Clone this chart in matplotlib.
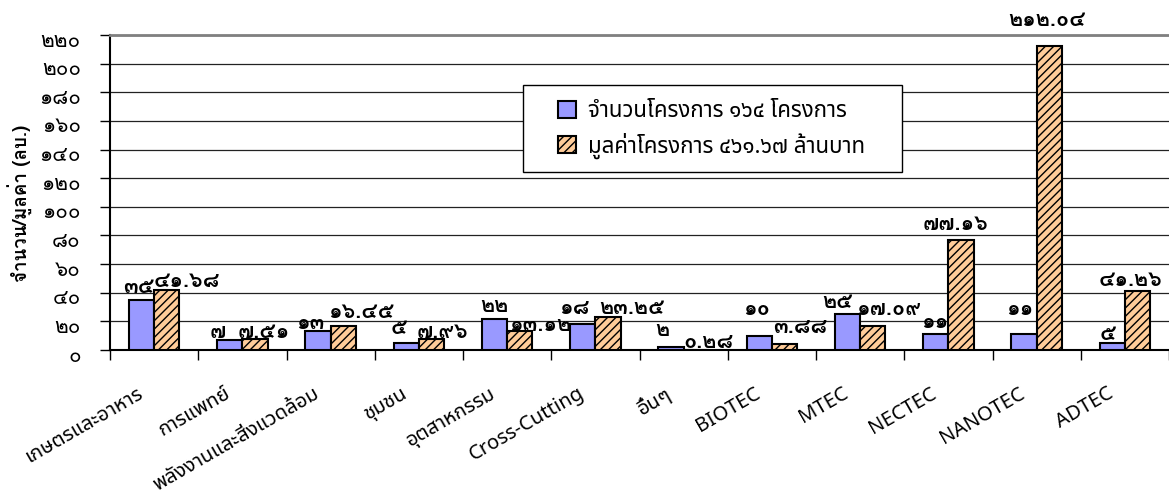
import matplotlib
matplotlib.use('Agg')
import matplotlib.pyplot as plt
import matplotlib.transforms as mtransforms
from matplotlib.patches import Patch, Rectangle
import numpy as np

# ข้อมูล
categories = ['เกษตรและอาหาร', 'การแพทย์', 'พลังงานและสิ่งแวดล้อม', 'ชุมชน', 'อุตสาหกรรม',
              'Cross-Cutting', 'อื่นๆ', 'BIOTEC', 'MTEC', 'NECTEC', 'NANOTEC', 'ADTEC']
counts = [35, 7, 13, 5, 22, 18, 2, 10, 25, 11, 11, 5]
values = [41.68, 7.51, 16.45, 7.96, 13.12, 23.25, 0.28, 3.88, 17.09, 77.16, 212.04, 41.26]
yticks = list(range(0, 221, 20))
legend_labels = ['จำนวนโครงการ ๑๖๔ โครงการ', 'มูลค่าโครงการ ๔๖๑.๖๗ ล้านบาท']
ylabel = 'จำนวน/มูลค่า (ลบ.)'

# ตำแหน่งป้ายตัวเลข (พิกเซล, เทียบกับยอดแท่ง)
count_off = [(-3, 13), (-12, 8), (-8, 8), (-7, 15), (0, 12), (-9, 16),
             (-9, 17), (-3, 27), (-10, 12), (-1, 12), (-4, 25), (-4, 9)]
value_off = [(20, 9), (9, 7), (18, 14), (11, 7), (20, 6), (24, 9),
             (12, 8), (16, 17), (16, 17), (-5, 16), (-2, 26), (-7, 11)]

thai = str.maketrans('0123456789', '๐๑๒๓๔๕๖๗๘๙')
num_font = ['Loma', 'DejaVu Sans']
txt_font = ['Noto Sans Thai', 'DejaVu Sans']

plt.rcParams['hatch.linewidth'] = 1.0

fig = plt.figure(figsize=(11.69, 5.04), dpi=100)
ax = fig.add_axes([110 / 1169, 1 - 350 / 504, 1 - 110 / 1169, 315 / 504])

x = np.arange(len(categories))
w = 1 / 3.5
ax.bar(x - w / 2, counts, w, color='#9999FF', edgecolor='black', linewidth=1.5, zorder=3)
ax.bar(x + w / 2, values, w, color='#FFCC99', edgecolor='black', linewidth=1.5,
       hatch='////', zorder=3)

for i in range(len(categories)):
    ax.annotate(str(counts[i]).translate(thai), (x[i] - w / 2, counts[i]),
                xytext=count_off[i], textcoords='offset pixels', ha='center', va='center',
                fontsize=15.5, fontweight='bold', family=num_font, zorder=4)
    ax.annotate(f'{values[i]:.2f}'.translate(thai), (x[i] + w / 2, values[i]),
                xytext=value_off[i], textcoords='offset pixels', ha='center', va='center',
                fontsize=15.5, fontweight='bold', family=num_font, zorder=4)

ax.set_xlim(-0.5, len(categories) - 0.5)
ax.set_ylim(0, 220)
ax.set_yticks(yticks)
ax.set_yticklabels([str(v).translate(thai) for v in yticks], family=num_font, fontsize=15)
ax.yaxis.grid(True, color='#222222', linewidth=0.9, zorder=0)
ax.set_axisbelow(True)

# ขีดแกน x ที่ขอบหมวด, ป้ายที่กลางหมวด
ax.set_xticks(np.arange(-0.5, len(categories), 1))
ax.set_xticklabels([])
ax.set_xticks(x, minor=True)
ax.set_xticklabels(categories, minor=True, rotation=30, ha='right', va='top',
                   family=txt_font, fontsize=14.5)
ax.tick_params(axis='x', which='minor', length=0, pad=24)
ax.tick_params(axis='x', which='major', length=7, width=1, direction='out')
ax.tick_params(axis='y', length=7, width=1, direction='out', pad=14)
shift = mtransforms.ScaledTranslation(-8 / 100, 0, fig.dpi_scale_trans)
for lab in ax.get_xticklabels(minor=True):
    lab.set_transform(lab.get_transform() + shift)
yshift = mtransforms.ScaledTranslation(0, -4 / 100, fig.dpi_scale_trans)
for lab in ax.get_yticklabels():
    lab.set_transform(lab.get_transform() + yshift)

ax.spines['right'].set_visible(False)
ax.spines['top'].set_color('#808080')
ax.spines['top'].set_linewidth(2)
ax.spines['left'].set_linewidth(1.5)
ax.spines['bottom'].set_linewidth(1.5)

fig.text(20 / 1169, 1 - 203 / 504, ylabel, rotation=90, ha='center', va='center',
         fontsize=13.5, fontweight='bold', family=num_font)

# กรอบคำอธิบาย
fig.add_artist(Rectangle((523 / 1169, 1 - 172 / 504), 379 / 1169, 87 / 504,
                         transform=fig.transFigure, facecolor='white',
                         edgecolor='black', linewidth=1.0, zorder=5))
handles = [Patch(facecolor='#9999FF', edgecolor='black', linewidth=1.5),
           Patch(facecolor='#FFCC99', edgecolor='black', linewidth=1.5, hatch='////')]
leg = fig.legend(handles, legend_labels, loc='center left',
                 bbox_to_anchor=(558 / 1169, 1 - 130 / 504), borderaxespad=0,
                 prop={'family': txt_font, 'size': 16}, frameon=False,
                 handlelength=0.8, handleheight=0.8,
                 handletextpad=0.55, labelspacing=0.45, borderpad=0)
leg.set_zorder(6)

fig.savefig('out.png', dpi=100)
